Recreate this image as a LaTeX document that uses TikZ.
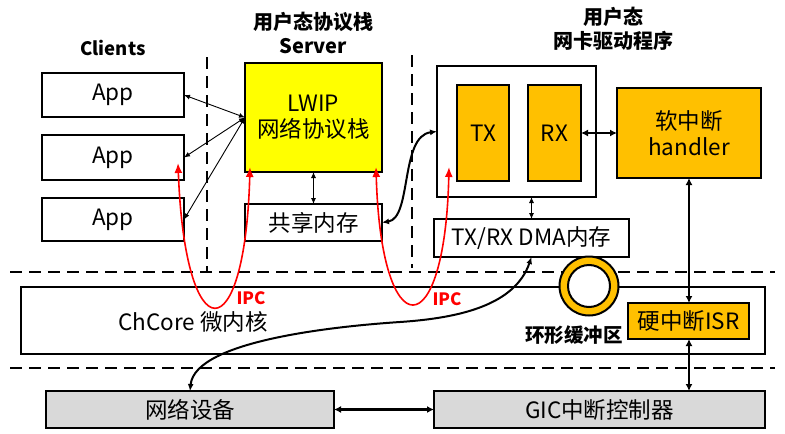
\documentclass[tikz,border=0pt]{standalone}
\usepackage{fontspec}
\setmainfont{Noto Sans CJK SC}
\usetikzlibrary{arrows.meta,calc}
\definecolor{yel}{HTML}{FFFF00}
\definecolor{org}{HTML}{FFC000}
\definecolor{gry}{HTML}{D9D9D9}
\definecolor{ipcred}{HTML}{FF0000}
\begin{document}
\begin{tikzpicture}[x=1pt,y=-1pt,
  font=\fontsize{22.5}{26}\selectfont,
  box/.style={draw,line width=2.2pt,inner sep=0pt,outer sep=0pt,align=center},
  title/.style={font=\fontsize{20}{23.5}\selectfont\bfseries,align=center},
  dashline/.style={line width=2.5pt,dash pattern=on 12pt off 7pt},
  thinarr/.style={line width=0.9pt,{Latex[length=6pt,width=5pt]}-{Latex[length=6pt,width=5pt]}},
  thickarr/.style={line width=2.4pt,{Latex[length=7pt,width=7pt]}-{Latex[length=7pt,width=7pt]}},
  curvearr/.style={line width=2pt,{Latex[length=7pt,width=6pt]}-{Latex[length=7pt,width=6pt]}},
  redarr/.style={line width=1.6pt,ipcred,{Latex[length=10pt,width=8pt]}-{Latex[length=10pt,width=8pt]}},
  ipc/.style={text=ipcred,font=\fontsize{17}{20}\selectfont\bfseries}
]
\useasboundingbox (0,0) rectangle (785,434);

% dashed separators
\coordinate (v1t) at (207,57);  \coordinate (v1b) at (207,271);
\coordinate (v2t) at (412,55);  \coordinate (v2b) at (412,268);
\coordinate (h1l) at (10,272);  \coordinate (h1r) at (775,272);
\coordinate (h2l) at (10,368);  \coordinate (h2r) at (775,368);
\draw[dashline] (v1t) -- (v1b);
\draw[dashline] (v2t) -- (v2b);
\draw[dashline] (h1l) -- (h1r);
\draw[dashline] (h2l) -- (h2r);

% titles
\node[title,font=\fontsize{18.5}{22}\selectfont\bfseries] (tclients) at (113,48) {Clients};
\node[title] (tserver) at (313,33) {用户态协议栈\\Server};
\node[title] (tdriver) at (613,29) {用户态\\网卡驱动程序};

% clients
\node[box,minimum width=142pt,minimum height=44pt] (app1) at (113,95) {App};
\node[box,minimum width=142pt,minimum height=45pt] (app2) at (113,157.5) {App};
\node[box,minimum width=142pt,minimum height=43pt] (app3) at (113,219.5) {App};

% server
\node[box,fill=yel,minimum width=137pt,minimum height=109pt] (lwip) at (313.5,117.5) {LWIP\\网络协议栈};
\node[box,minimum width=137pt,minimum height=37pt] (shm) at (313.5,222.5) {共享内存};

% driver
\node[box,minimum width=159pt,minimum height=131pt] (drv) at (516.5,131.5) {};
\node[box,fill=org,minimum width=52pt,minimum height=96pt] (tx) at (483,133) {TX};
\node[box,fill=org,minimum width=53pt,minimum height=96pt] (rx) at (554.5,133) {RX};
\node[box,fill=org,minimum width=144pt,minimum height=90pt] (handler) at (689,133) {软中断\\handler};
\node[box,minimum width=195pt,minimum height=38pt] (dma) at (531.5,238) {TX/RX DMA内存};

% kernel
\node[box,minimum width=744pt,minimum height=67pt] (chcore) at (393,320.5) {};
\node (chtext) at (193,322) {ChCore 微内核};
\node[draw,line width=2pt,fill=org,circle,minimum size=59pt,inner sep=0pt] (ring) at (589,286) {};
\node[draw,line width=2pt,fill=white,circle,minimum size=42pt,inner sep=0pt] (ringin) at (589,286) {};
\node[font=\fontsize{19.5}{23}\selectfont\bfseries] (ringlbl) at (574,335) {环形缓冲区};
\node[box,fill=org,minimum width=121pt,minimum height=36pt] (isr) at (688.5,321) {硬中断ISR};

% hardware
\node[box,fill=gry,minimum width=288pt,minimum height=37pt] (netdev) at (190,409.5) {网络设备};
\node[box,fill=gry,minimum width=331pt,minimum height=37pt] (gic) at (599.5,409.5) {GIC中断控制器};

% thin arrows
\draw[thinarr] (app1.east) -- (lwip.west);
\draw[thinarr] (app2.east) -- (lwip.west);
\draw[thinarr] (app3.east) -- (lwip.west);
\draw[thinarr] (lwip.south) -- (shm.north);
\draw[thinarr] (drv.south -| dma.north) -- (dma.north);

% thick arrows
\draw[thickarr] (rx.east) -- (handler.west);
\draw[thickarr] (handler.south) -- (handler.south |- isr.north);
\draw[thickarr] (handler.south |- isr.south) -- (handler.south |- gic.north);
\draw[thickarr] (netdev.east) -- (gic.west);

% curved arrows
\draw[curvearr] (shm.east) .. controls (412,218) and (400,136) .. (drv.west);
\draw[curvearr] (dma.south) .. controls (515,305) and (460,318) .. (400,322)
   .. controls (340,326) and (195,340) .. (netdev.north);

% IPC arrows
\coordinate (r1a) at ($(app2.south east)+(-6,-17)$);
\coordinate (r1b) at ($(lwip.south west)+(5,-5)$);
\coordinate (r2a) at ($(lwip.south east)+(-6,-5)$);
\coordinate (r2b) at ($(drv.south west)+(12,-30)$);
\draw[redarr] (r1a) .. controls (185,353) and (245,353) .. (r1b);
\draw[redarr] (r2a) .. controls (381,348) and (445,348) .. (r2b);
\node[ipc] (ipc1) at (251,298) {IPC};
\node[ipc] (ipc2) at (447,299) {IPC};
\end{tikzpicture}
\end{document}
